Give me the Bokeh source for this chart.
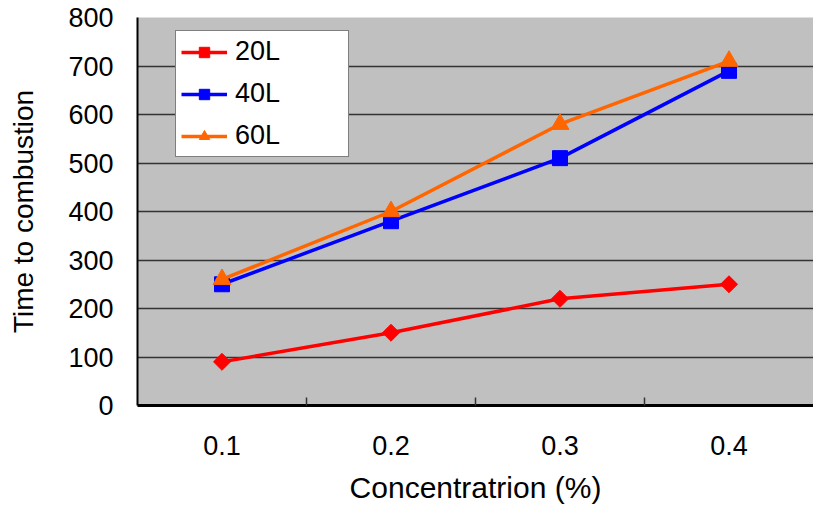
import math
from bokeh.plotting import figure
from bokeh.models import Legend, LegendItem, FixedTicker, Range1d
from bokeh.embed import file_html
from bokeh.resources import INLINE

concentration = [0.1, 0.2, 0.3, 0.4]
tick_labels = ["0.1", "0.2", "0.3", "0.4"]
series_20L = [90, 150, 220, 250]
series_40L = [250, 380, 510, 690]
series_60L = [260, 400, 580, 710]

FONT = "Liberation Sans"

p = figure(width=813, height=507, output_backend="svg", toolbar_location=None,
           x_range=Range1d(0.05, 0.45), y_range=Range1d(0, 800),
           min_border_left=137, min_border_right=0, min_border_top=17, min_border_bottom=102)

p.background_fill_color = "#C0C0C0"
p.border_fill_color = "white"
p.outline_line_color = None

# grids
p.xgrid.grid_line_color = None
p.ygrid.grid_line_color = "#333333"
p.ygrid.grid_line_width = 1.5
p.ygrid.ticker = FixedTicker(ticks=list(range(0, 801, 100)))

# x axis
p.xaxis.ticker = FixedTicker(ticks=concentration, minor_ticks=[0.15, 0.25, 0.35])
p.xaxis.major_label_overrides = {c: l for c, l in zip(concentration, tick_labels)}
p.xaxis.major_tick_line_color = None
p.xaxis.major_tick_in = 0
p.xaxis.major_tick_out = 0
p.xaxis.minor_tick_in = 8
p.xaxis.minor_tick_out = 0
p.xaxis.minor_tick_line_color = "#333333"
p.xaxis.minor_tick_line_width = 1.5
p.xaxis.axis_line_width = 3
p.xaxis.axis_line_color = "black"
p.xaxis.major_label_standoff = 30
p.xaxis.major_label_text_font = FONT
p.xaxis.major_label_text_font_size = "27px"
p.xaxis.major_label_text_color = "black"
p.xaxis.axis_label = "Concentratrion (%)"
p.xaxis.axis_label_text_font = FONT
p.xaxis.axis_label_text_font_size = "30px"
p.xaxis.axis_label_text_font_style = "normal"
p.xaxis.axis_label_standoff = 13
p.xaxis.axis_label_text_color = "black"

# y axis
p.yaxis.ticker = FixedTicker(ticks=list(range(0, 801, 100)))
p.yaxis.major_tick_in = 0
p.yaxis.major_tick_out = 0
p.yaxis.minor_tick_line_color = None
p.yaxis.axis_line_width = 2
p.yaxis.axis_line_color = "black"
p.yaxis.major_label_standoff = 24
p.yaxis.major_label_text_font = FONT
p.yaxis.major_label_text_font_size = "27px"
p.yaxis.major_label_text_color = "black"
p.yaxis.axis_label = "Time to combustion"
p.yaxis.axis_label_text_font = FONT
p.yaxis.axis_label_text_font_size = "28px"
p.yaxis.axis_label_text_font_style = "normal"
p.yaxis.axis_label_standoff = 26
p.yaxis.axis_label_text_color = "black"

l1 = p.line(concentration, series_20L, line_color="#FF0000", line_width=3.5)
m1 = p.scatter(concentration, series_20L, marker="square", size=12, angle=math.pi / 4, color="#FF0000")
l2 = p.line(concentration, series_40L, line_color="#0000FF", line_width=3.5)
m2 = p.scatter(concentration, series_40L, marker="square", size=15, color="#0000FF")
l3 = p.line(concentration, series_60L, line_color="#FF6600", line_width=3.5)
m3 = p.scatter(concentration, series_60L, marker="triangle", size=18, color="#FF6600")

legend = Legend(items=[
    LegendItem(label="20L", renderers=[l1, m1]),
    LegendItem(label="40L", renderers=[l2, m2]),
    LegendItem(label="60L", renderers=[l3, m3]),
], location=(38, 248))
legend.background_fill_color = "white"
legend.background_fill_alpha = 1
legend.border_line_color = "black"
legend.border_line_width = 1
legend.label_text_font = FONT
legend.label_text_font_size = "27px"
legend.label_text_color = "black"
legend.glyph_width = 46
legend.glyph_height = 26
legend.label_height = 26
legend.spacing = 11
legend.padding = 5
legend.margin = 0
legend.label_standoff = 8
legend.label_width = 108
p.add_layout(legend)

open("out.html", "w").write(file_html(p, INLINE))
